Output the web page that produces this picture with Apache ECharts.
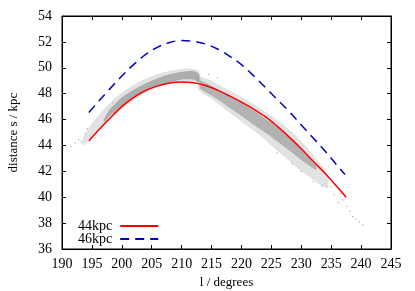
<!DOCTYPE html>
<html>
<head>
<meta charset="utf-8">
<script src="https://cdn.jsdelivr.net/npm/echarts@6/dist/echarts.min.js"></script>
<style>html,body{margin:0;padding:0;background:#fff}#c{width:415px;height:291px}</style>
</head>
<body>
<div id="c"></div>
<script>
// ---- data ----
var xTicks = [190, 195, 200, 205, 210, 215, 220, 225, 230, 235, 240, 245];
var yTicks = [36, 38, 40, 42, 44, 46, 48, 50, 52, 54];

var redX = [194.5, 196, 198, 200, 202, 204, 206, 208, 210, 212, 214, 216, 218, 220, 222, 224, 226, 228, 230, 232, 234, 236, 237.5];
var redY = [44.35, 45.13, 46.1, 47.0, 47.72, 48.25, 48.6, 48.82, 48.9, 48.84, 48.63, 48.27, 47.83, 47.35, 46.82, 46.22, 45.47, 44.64, 43.74, 42.78, 41.83, 40.8, 40.0];

var blueX = [194.5, 196, 198, 200, 202, 204, 206, 208, 210, 212, 214, 216, 218, 220, 222, 224, 226, 228, 230, 232, 234, 236, 237.3];
var blueY = [46.55, 47.35, 48.37, 49.36, 50.26, 51.03, 51.6, 51.96, 52.1, 52.04, 51.83, 51.45, 50.9, 50.24, 49.4, 48.48, 47.54, 46.62, 45.58, 44.57, 43.56, 42.46, 41.75];

// light outer part of the gray point cloud (left and right pieces)
var outerAX = [193.5, 195, 197, 199, 201, 203, 205, 207, 209, 211, 212.6, 213.1];
var outerAUp = [44.6, 45.7, 46.8, 47.7, 48.4, 48.95, 49.35, 49.65, 49.85, 49.95, 49.85, 49.5];
var outerALo = [44.0, 44.6, 45.5, 46.4, 47.2, 47.8, 48.3, 48.65, 48.9, 48.95, 48.85, 48.75];
var outerBX = [212.8, 215, 217, 219, 221, 223, 225, 227, 229, 231, 233, 234.5];
var outerBUp = [49.3, 49.0, 48.5, 48.0, 47.5, 46.9, 46.3, 45.6, 44.8, 43.8, 42.7, 41.7];
var outerBLo = [48.3, 47.6, 46.9, 46.2, 45.5, 44.8, 44.0, 43.2, 42.4, 41.7, 41.0, 40.7];

// dense core of the gray point cloud
var coreAX = [197, 198, 200, 202, 204, 206, 208, 210, 212, 212.9];
var coreAUp = [46.0, 46.8, 47.7, 48.3, 48.8, 49.2, 49.5, 49.7, 49.75, 49.5];
var coreALo = [45.8, 46.3, 47.05, 47.65, 48.15, 48.55, 48.85, 49.1, 49.1, 48.9];
var coreBX = [213.1, 215, 217, 219, 221, 223, 225, 227, 229, 231, 232.5];
var coreBUp = [49.0, 48.6, 48.1, 47.6, 47.0, 46.4, 45.75, 45.0, 44.15, 43.2, 42.4];
var coreBLo = [48.4, 47.85, 47.25, 46.6, 45.95, 45.3, 44.65, 43.95, 43.25, 42.55, 42.1];

// isolated gray points outside the band
var sparseX = [191.5, 192.2, 192.8, 193.3, 193.9, 194.2, 195.5, 196.5, 198.5, 214.5, 216, 226, 228.5, 230, 232, 233.5, 235.5, 236.2, 237, 237.6, 238.1, 238.6, 239.1, 239.7, 240.3, 235, 236.5];
var sparseY = [43.9, 44.2, 44.45, 44.3, 44.9, 45.3, 44.6, 45.3, 47.3, 49.5, 49.2, 43.4, 42.6, 42.0, 41.2, 40.9, 40.2, 39.6, 39.8, 39.3, 38.9, 38.5, 38.3, 38.1, 37.85, 40.8, 40.3];

// ---- build ----
function pairs(xs, ys) { return xs.map(function (x, i) { return [x, ys[i]]; }); }
function poly(xs, up, lo) {
  var p = pairs(xs, up);
  for (var i = xs.length - 1; i >= 0; i--) p.push([xs[i], lo[i]]);
  return p;
}
function polySeries(vertices, color) {
  return {
    type: 'custom', silent: true, z: 1,
    data: vertices,
    encode: { x: 0, y: 1 },
    renderItem: function (params, api) {
      if (params.dataIndex !== 0) return null;
      var pts = vertices.map(function (v) { return api.coord(v); });
      return { type: 'polygon', shape: { points: pts, smooth: 0.2 }, style: { fill: color, stroke: null } };
    }
  };
}

var serif = 'Liberation Serif, Times New Roman, serif';
var chart = echarts.init(document.getElementById('c'), null, { renderer: 'canvas' });
var tickLabel = { color: '#000', fontFamily: serif, fontSize: 14 };

chart.setOption({
  animation: false,
  backgroundColor: '#fff',
  grid: { left: 62, right: 24, top: 16, bottom: 42, containLabel: false, outerBoundsMode: 'none',
          show: true, borderColor: '#000', borderWidth: 1, backgroundColor: 'transparent' },
  legend: {
    data: ['44kpc', '46kpc'], left: 78, top: 219, orient: 'vertical', align: 'right',
    padding: 0, itemWidth: 38, itemHeight: 10, itemGap: -1,
    itemStyle: { opacity: 0 },
    textStyle: { fontFamily: serif, fontSize: 14, color: '#000', padding: [0, 3, 0, 0] }
  },
  xAxis: [{
    type: 'value', min: 190, max: 245, interval: 5,
    name: 'l / degrees', nameLocation: 'middle', nameGap: 27,
    nameTextStyle: { fontFamily: serif, fontSize: 13, color: '#000' },
    axisLine: { lineStyle: { color: '#000' } },
    axisTick: { inside: true, length: 4, lineStyle: { color: '#000' } },
    axisLabel: Object.assign({ margin: 8, formatter: function (v) { return xTicks.indexOf(v) >= 0 ? String(v) : ''; } }, tickLabel),
    splitLine: { show: false }
  }, {
    type: 'value', position: 'top', min: 190, max: 245, interval: 5,
    axisLine: { show: true, lineStyle: { color: '#000' } },
    axisTick: { inside: true, length: 4, lineStyle: { color: '#000' } },
    axisLabel: { show: false }, splitLine: { show: false }
  }],
  yAxis: [{
    type: 'value', min: 36, max: 54, interval: 2,
    name: 'distance s / kpc', nameLocation: 'middle', nameGap: 42,
    nameTextStyle: { fontFamily: serif, fontSize: 13, color: '#000' },
    axisLine: { show: true, lineStyle: { color: '#000' } },
    axisTick: { show: true, inside: true, length: 4, lineStyle: { color: '#000' } },
    axisLabel: Object.assign({ margin: 10, formatter: function (v) { return yTicks.indexOf(v) >= 0 ? String(v) : ''; } }, tickLabel),
    splitLine: { show: false }
  }, {
    type: 'value', position: 'right', min: 36, max: 54, interval: 2,
    axisLine: { show: true, lineStyle: { color: '#000' } },
    axisTick: { show: true, inside: true, length: 4, lineStyle: { color: '#000' } },
    axisLabel: { show: false }, splitLine: { show: false }
  }],
  series: [
    polySeries(poly(outerAX, outerAUp, outerALo), 'rgba(140,140,140,0.25)'),
    polySeries(poly(outerBX, outerBUp, outerBLo), 'rgba(140,140,140,0.25)'),
    polySeries(poly(coreAX, coreAUp, coreALo), 'rgba(120,120,120,0.5)'),
    polySeries(poly(coreBX, coreBUp, coreBLo), 'rgba(120,120,120,0.45)'),
    {
      type: 'scatter', silent: true, z: 2, symbol: 'rect', symbolSize: 1.2,
      itemStyle: { color: '#999' }, data: pairs(sparseX, sparseY)
    },
    {
      name: '44kpc', type: 'line', smooth: 0.35, showSymbol: false, symbol: 'none', z: 5,
      lineStyle: { color: '#ff0000', width: 1.5 }, itemStyle: { color: '#ff0000', opacity: 0 },
      data: pairs(redX, redY)
    },
    {
      name: '46kpc', type: 'line', smooth: 0.35, showSymbol: false, symbol: 'none', z: 5,
      lineStyle: { color: '#0000c8', width: 1.5, type: [9, 6] }, itemStyle: { color: '#0000c8', opacity: 0 },
      data: pairs(blueX, blueY)
    }
  ]
});
</script>
</body>
</html>
